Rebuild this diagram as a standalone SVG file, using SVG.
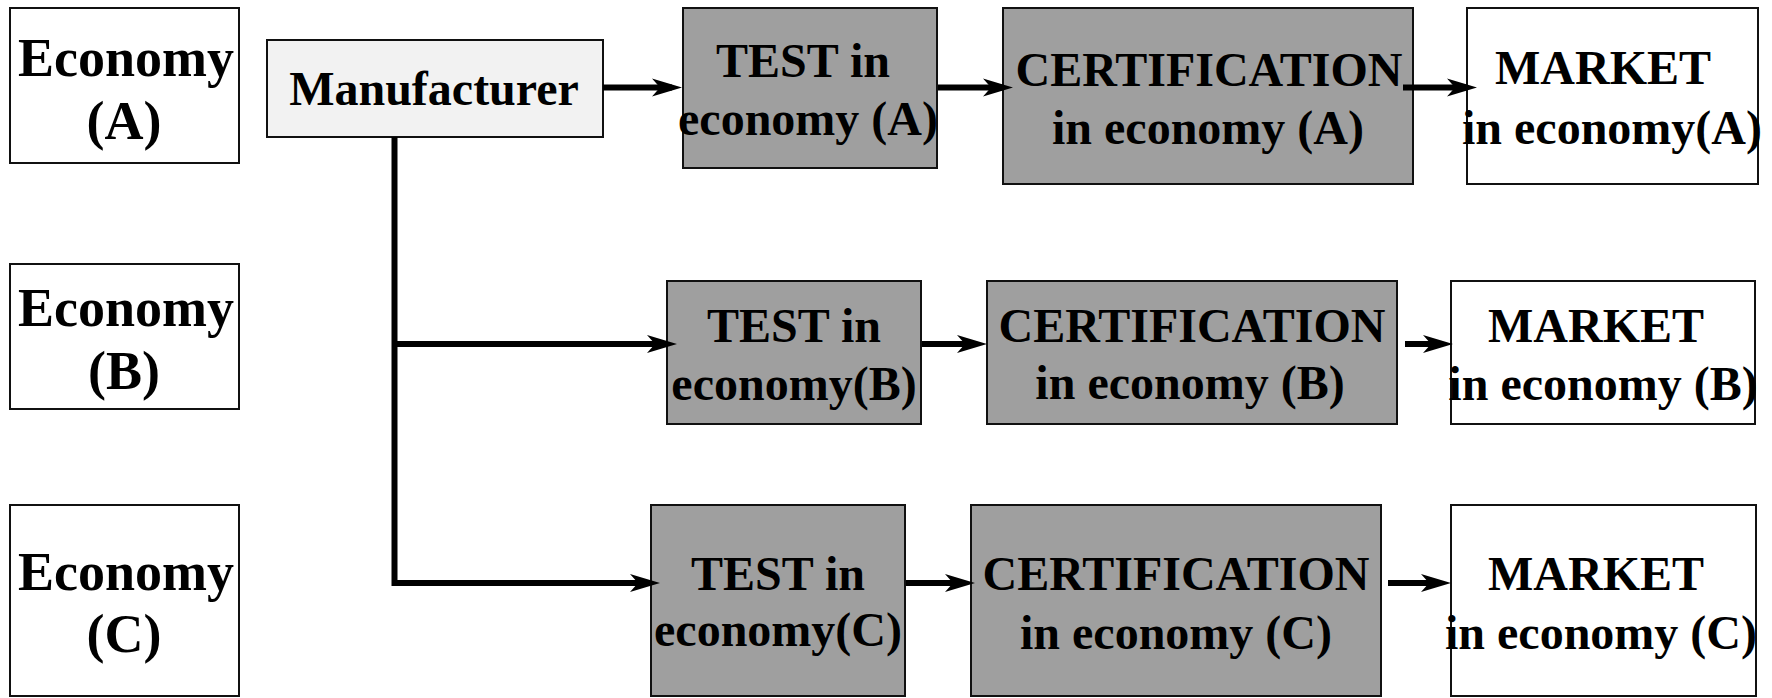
<svg xmlns="http://www.w3.org/2000/svg" width="1772" height="698" viewBox="0 0 1772 698">
  <style>
    .box { stroke: #111; stroke-width: 2; }
    .plain { fill: #ffffff; }
    .light { fill: #f2f2f2; }
    .grey { fill: #9f9f9f; }
    text { font-family: "Liberation Serif", "Times New Roman", serif; font-weight: bold; fill: #000; text-anchor: middle; }
    .lbl { font-size: 48px; }
    .eco { font-size: 54px; }
    .mfr { font-size: 48px; }
    .wire { fill: none; stroke: #000; stroke-width: 6; stroke-linejoin: miter; marker-end: url(#head); }
    .trunk { fill: none; stroke: #000; stroke-width: 6; stroke-linejoin: miter; }
  </style>
  <defs>
    <marker id="head" markerUnits="userSpaceOnUse" viewBox="0 0 32 20" markerWidth="32" markerHeight="20" refX="20" refY="10" orient="auto">
      <path d="M30,10 L0,1 L8,10 L0,19 Z" fill="#000"/>
    </marker>
  </defs>

  <rect width="1772" height="698" fill="#ffffff"/>

  <!-- economy labels -->
  <g id="economy-a">
    <rect class="box plain" x="10" y="8" width="229" height="155"/>
    <text class="eco" x="126" y="76">Economy</text>
    <text class="eco" x="124" y="139">(A)</text>
  </g>
  <g id="economy-b">
    <rect class="box plain" x="10" y="264" width="229" height="145"/>
    <text class="eco" x="126" y="326">Economy</text>
    <text class="eco" x="124" y="389">(B)</text>
  </g>
  <g id="economy-c">
    <rect class="box plain" x="10" y="505" width="229" height="191"/>
    <text class="eco" x="126" y="590">Economy</text>
    <text class="eco" x="124" y="652">(C)</text>
  </g>

  <!-- manufacturer -->
  <g id="manufacturer">
    <rect class="box light" x="267" y="40" width="336" height="97"/>
    <text class="mfr" x="434" y="105">Manufacturer</text>
  </g>

  <!-- row A -->
  <g id="test-a">
    <rect class="box grey" x="683" y="8" width="254" height="160"/>
    <text class="lbl" x="803" y="77">TEST in</text>
    <text class="lbl" x="808" y="135">economy (A)</text>
  </g>
  <g id="cert-a">
    <rect class="box grey" x="1003" y="8" width="410" height="176"/>
    <text class="lbl" x="1209" y="86">CERTIFICATION</text>
    <text class="lbl" x="1208" y="144">in economy (A)</text>
  </g>
  <g id="market-a">
    <rect class="box plain" x="1467" y="8" width="291" height="176"/>
    <text class="lbl" x="1603" y="84">MARKET</text>
    <text class="lbl" x="1612" y="144">in economy(A)</text>
  </g>

  <!-- row B -->
  <g id="test-b">
    <rect class="box grey" x="667" y="281" width="254" height="143"/>
    <text class="lbl" x="794" y="342">TEST in</text>
    <text class="lbl" x="794" y="400">economy(B)</text>
  </g>
  <g id="cert-b">
    <rect class="box grey" x="987" y="281" width="410" height="143"/>
    <text class="lbl" x="1192" y="342">CERTIFICATION</text>
    <text class="lbl" x="1190" y="399">in economy (B)</text>
  </g>
  <g id="market-b">
    <rect class="box plain" x="1451" y="281" width="304" height="143"/>
    <text class="lbl" x="1596" y="342">MARKET</text>
    <text class="lbl" x="1603" y="400">in economy (B)</text>
  </g>

  <!-- row C -->
  <g id="test-c">
    <rect class="box grey" x="651" y="505" width="254" height="191"/>
    <text class="lbl" x="778" y="590">TEST in</text>
    <text class="lbl" x="778" y="646">economy(C)</text>
  </g>
  <g id="cert-c">
    <rect class="box grey" x="971" y="505" width="410" height="191"/>
    <text class="lbl" x="1176" y="590">CERTIFICATION</text>
    <text class="lbl" x="1176" y="649">in economy (C)</text>
  </g>
  <g id="market-c">
    <rect class="box plain" x="1451" y="505" width="305" height="191"/>
    <text class="lbl" x="1596" y="590">MARKET</text>
    <text class="lbl" x="1601" y="649">in economy (C)</text>
  </g>

  <!-- connectors -->
  <g id="connectors">
    <path class="wire" d="M603,87.5 H672"/>
    <path class="wire" d="M938,87.5 H1003"/>
    <path class="wire" d="M1403,87.5 H1467"/>
    <path class="trunk" d="M394.5,137 V583 H650"/>
    <path class="wire" d="M640,583 H650"/>
    <path class="wire" d="M394.5,344 H667"/>
    <path class="wire" d="M922,344 H977"/>
    <path class="wire" d="M1405,344 H1443"/>
    <path class="wire" d="M906,583 H965"/>
    <path class="wire" d="M1388,583 H1441"/>
  </g>
</svg>
